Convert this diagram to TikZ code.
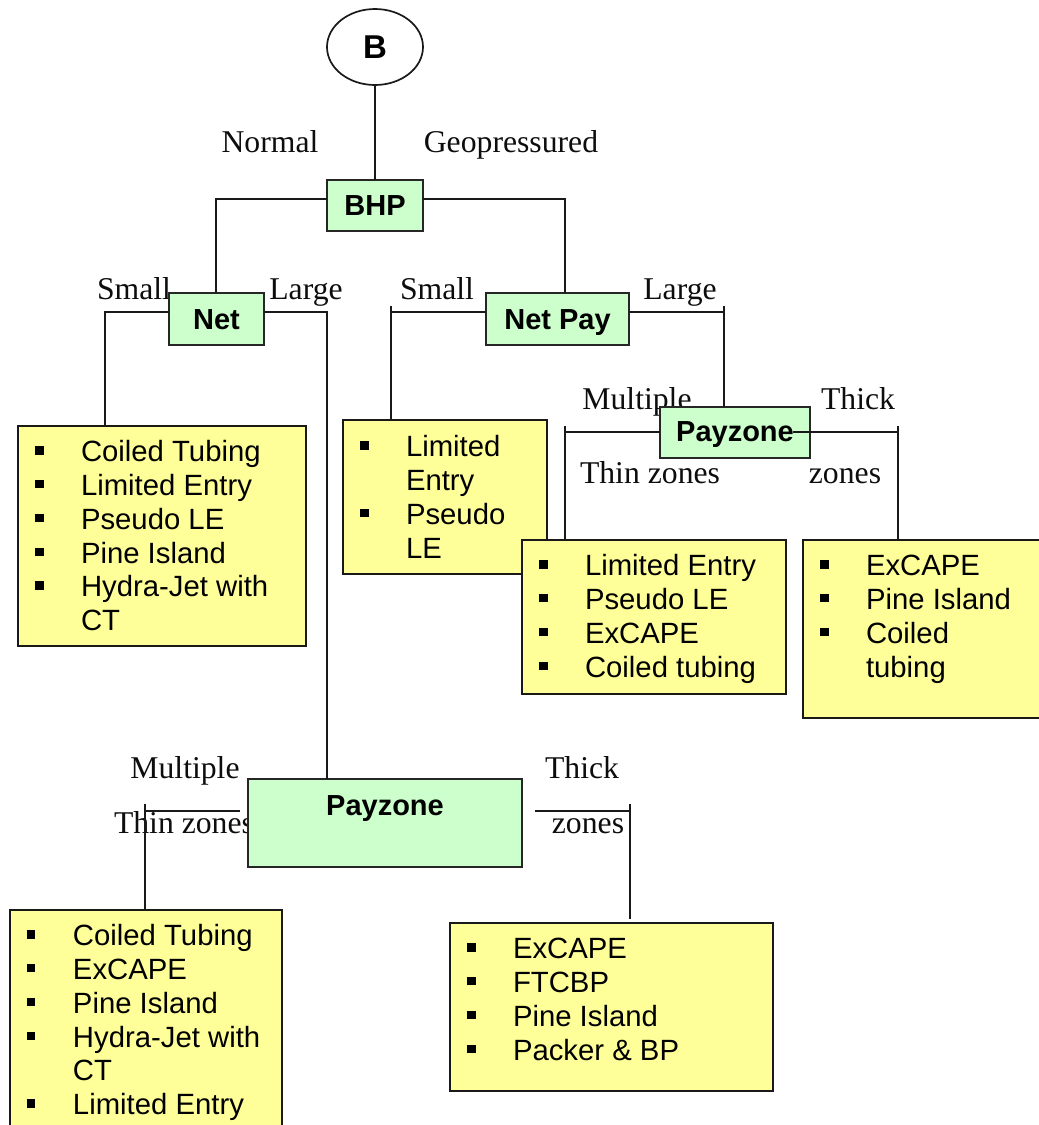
\documentclass[tikz,border=0pt]{standalone}
\usepackage{fontspec}
\usetikzlibrary{shapes.geometric}
\setmainfont{Liberation Sans}
\newfontfamily\labelfont{Liberation Serif}
\newcommand{\li}[1]{\makebox[46pt][l]{\raisebox{7pt}{\rule{8.5pt}{8.5pt}}}#1\strut\\}
\newcommand{\cont}[1]{\hspace*{46pt}#1\strut\\}
\definecolor{headgreen}{HTML}{CCFFCC}
\definecolor{listyellow}{HTML}{FFFF99}
\tikzset{
  x=1pt,y=-1pt,
  every node/.style={inner sep=0pt,outer sep=0pt},
  wire/.style={draw=black!90,line width=1.7pt},
  caption/.style={font=\labelfont\fontsize{31.7}{34}\selectfont,text=black!95,anchor=base},
  headbox/.style={draw=black!85,line width=1.9pt,fill=headgreen,anchor=north west,font=\bfseries\fontsize{29}{34}\selectfont,text height=20pt,text depth=0pt},
  listbox/.style={draw=black!90,line width=1.9pt,fill=listyellow,anchor=north west},
  listtext/.style={anchor=north west,align=left,font=\fontsize{29.3}{33.8}\selectfont},
}
\begin{document}
\begin{tikzpicture}
\useasboundingbox (0,0) rectangle (1039,1125);
\clip (0,0) rectangle (1039,1125);
% labels under the boxes
\node[caption] (lnormal) at (270,152) {Normal};
\node[caption] (lgeo) at (511,152) {Geopressured};
\node[caption] (lsmalla) at (134,299) {Small};
\node[caption] (llargea) at (306,299) {Large};
\node[caption] (lsmallb) at (437,299) {Small};
\node[caption] (llargeb) at (680,299) {Large};
\node[caption] (lmulta) at (637,409) {Multiple};
\node[caption] (lthicka) at (858,409) {Thick};
\node[caption] (lthina) at (650,483) {Thin zones};
\node[caption] (lzonesa) at (845,483) {zones};
\node[caption] (lmultb) at (185,778) {Multiple};
\node[caption] (lthickb) at (582,778) {Thick};
\node[caption] (lthinb) at (184,833) {Thin zones};
\node[caption] (lzonesb) at (588,833) {zones};
% decision nodes
\node[draw=black!90,line width=1.7pt,fill=white,ellipse,minimum width=96pt,minimum height=76pt,font=\bfseries\fontsize{33}{34}\selectfont] (b) at (375,47) {B};
\node[headbox,minimum width=96pt,minimum height=51pt] (bhp) at (327,180) {BHP};
\node[headbox,minimum width=95pt,minimum height=52pt] (net) at (169,293) {Net};
\node[headbox,minimum width=143pt,minimum height=52pt] (netpay) at (486,293) {Net Pay};
\node[headbox,minimum width=150pt,minimum height=51pt,text depth=3pt] (payb) at (660,407) {Payzone};
\node[headbox,minimum width=274pt,minimum height=88pt,text depth=36pt] (paya) at (248,779) {Payzone};
% list boxes
\node[listbox,minimum width=288pt,minimum height=220pt] (lista) at (18,426) {};
\node[listtext] (listat) at (35,438) {\li{Coiled Tubing}\li{Limited Entry}\li{Pseudo LE}\li{Pine Island}\li{Hydra-Jet with}\cont{CT}};
\node[listbox,minimum width=204pt,minimum height=154pt] (listb) at (343,420) {};
\node[listtext] (listbt) at (360,433) {\li{Limited}\cont{Entry}\li{Pseudo}\cont{LE}};
\node[listbox,minimum width=264pt,minimum height=154pt] (listc) at (522,540) {};
\node[listtext] (listct) at (539,552) {\li{Limited Entry}\li{Pseudo LE}\li{ExCAPE}\li{Coiled tubing}};
\node[listbox,minimum width=250pt,minimum height=178pt] (listd) at (803,540) {};
\node[listtext] (listdt) at (820,552) {\li{ExCAPE}\li{Pine Island}\li{Coiled}\cont{tubing}};
\node[listbox,minimum width=272pt,minimum height=230pt] (liste) at (10,910) {};
\node[listtext] (listet) at (27,922) {\li{Coiled Tubing}\li{ExCAPE}\li{Pine Island}\li{Hydra-Jet with}\cont{CT}\li{Limited Entry}};
\node[listbox,minimum width=323pt,minimum height=168pt] (listf) at (450,923) {};
\node[listtext] (listft) at (467,935) {\li{ExCAPE}\li{FTCBP}\li{Pine Island}\li{Packer \& BP}};
% connector ends
\coordinate (bhpl) at (327,199);
\coordinate (bhpr) at (423,199);
\coordinate (netl) at (169,312);
\coordinate (netr) at (264,312);
\coordinate (npl) at (486,312);
\coordinate (npr) at (629,312);
\coordinate (pbl) at (660,432);
\coordinate (pbr) at (793,432);
\coordinate (pal) at (240,811);
\coordinate (par) at (535,811);
\coordinate (tipa) at (391,306);
\coordinate (tipb) at (724,306);
\coordinate (tipc) at (565,426);
\coordinate (tipd) at (898,426);
\coordinate (tipe) at (145,804);
\coordinate (tipf) at (630,804);
\coordinate (endf) at (630,919);
% connectors
\draw[wire] (b.south) -- (bhp.north);
\draw[wire] (bhpl) -| (216,293);
\draw[wire] (bhpr) -| (565,293);
\draw[wire] (netl) -| (105,426);
\draw[wire] (netr) -| (327,779);
\draw[wire] (npl) -| (391,420);
\draw[wire] (tipa) -- (391,312);
\draw[wire] (npr) -| (724,407);
\draw[wire] (tipb) -- (724,312);
\draw[wire] (pbl) -| (565,540);
\draw[wire] (tipc) -- (565,432);
\draw[wire] (pbr) -| (898,540);
\draw[wire] (tipd) -- (898,432);
\draw[wire] (pal) -| (145,910);
\draw[wire] (tipe) -- (145,811);
\draw[wire] (par) -| (endf);
\draw[wire] (tipf) -- (630,811);
\end{tikzpicture}
\end{document}
